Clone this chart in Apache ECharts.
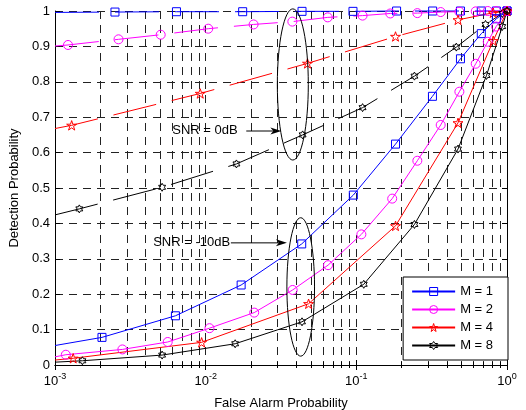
<!DOCTYPE html>
<html>
<head>
<meta charset="utf-8">
<script src="https://cdn.jsdelivr.net/npm/echarts@6/dist/echarts.min.js"></script>
<style>
  html, body { margin: 0; padding: 0; background: #fff; }
  #chart { width: 526px; height: 410px; }
</style>
</head>
<body>
<div id="chart"></div>
<script>
// SNR = -10dB (solid lines)
const m1LowPfa = [0.001, 0.00205, 0.0063, 0.0172, 0.0434, 0.0955, 0.182, 0.32, 0.491, 0.675, 0.85, 1];
const m1LowPd  = [0.055, 0.078, 0.139, 0.226, 0.342, 0.48, 0.624, 0.759, 0.865, 0.936, 0.978, 1];
const m2LowPfa = [0.001, 0.00118, 0.0028, 0.0056, 0.0106, 0.021, 0.0378, 0.0649, 0.108, 0.173, 0.254, 0.363, 0.483, 0.62, 0.745, 0.847, 1];
const m2LowPd  = [0.023, 0.029, 0.044, 0.065, 0.104, 0.148, 0.212, 0.282, 0.369, 0.47, 0.577, 0.678, 0.772, 0.851, 0.913, 0.956, 1];
const m4LowPfa = [0.001, 0.00132, 0.0094, 0.0482, 0.182, 0.473, 0.81, 1];
const m4LowPd  = [0.014, 0.019, 0.064, 0.173, 0.393, 0.684, 0.916, 1];
const m8LowPfa = [0.001, 0.00152, 0.00514, 0.0157, 0.0436, 0.112, 0.243, 0.473, 0.731, 0.93, 1];
const m8LowPd  = [0.008, 0.012, 0.028, 0.06, 0.122, 0.228, 0.397, 0.61, 0.818, 0.956, 1];

// SNR = 0dB (dashed lines)
const m1HighPfa = [0.001, 0.0025, 0.0064, 0.0176, 0.0436, 0.095, 0.185, 0.321, 0.491, 0.675, 0.85, 1];
const m1HighPd  = [0.996, 0.997, 0.998, 0.998, 0.999, 0.999, 1, 1, 1, 1, 1, 1];
const m2HighPfa = [0.001, 0.00122, 0.00264, 0.00503, 0.0104, 0.0208, 0.0376, 0.0646, 0.11, 0.168, 0.254, 0.363, 0.483, 0.62, 0.745, 0.847, 1];
const m2HighPd  = [0.901, 0.904, 0.92, 0.933, 0.95, 0.962, 0.97, 0.982, 0.987, 0.993, 0.994, 0.997, 0.998, 0.999, 1, 1, 1];
const m4HighPfa = [0.001, 0.00129, 0.0092, 0.0474, 0.182, 0.473, 0.81, 1];
const m4HighPd  = [0.668, 0.677, 0.767, 0.852, 0.928, 0.975, 0.995, 1];
const m8HighPfa = [0.001, 0.00145, 0.00514, 0.016, 0.044, 0.11, 0.243, 0.461, 0.72, 0.93, 1];
const m8HighPd  = [0.424, 0.441, 0.502, 0.568, 0.65, 0.727, 0.816, 0.898, 0.962, 0.993, 1];

const legendNames = ['M = 1', 'M = 2', 'M = 4', 'M = 8'];
const yTicks = [0, 0.1, 0.2, 0.3, 0.4, 0.5, 0.6, 0.7, 0.8, 0.9, 1];

const FONT = 'Liberation Sans, Arial, sans-serif';
const starPath = 'path://M50,0L61.2,34.5L97.6,34.5L68.2,55.9L79.4,90.5L50,69.1L20.6,90.5L31.8,55.9L2.4,34.5L38.8,34.5Z';
const hexPath = 'path://M50,0L64.4,25L93.3,25L78.9,50L93.3,75L64.4,75L50,100L35.6,75L6.7,75L21.1,50L6.7,25L35.6,25Z';
const squarePath = 'path://M0,0L10,0L10,10L0,10Z';

const styles = [
  { color: '#0000ff', symbol: squarePath, size: 8 },
  { color: '#ff00ff', symbol: 'circle', size: 9 },
  { color: '#ff0000', symbol: starPath, size: 10 },
  { color: '#000000', symbol: hexPath, size: 8 }
];

function pts(pfa, pd) {
  return pfa.map(function (x, i) {
    if (i === 0) return { value: [x, pd[i]], symbol: 'none' };
    return [x, pd[i]];
  });
}

function makeSeries(name, st, pfa, pd, dashed) {
  return {
    name: name,
    type: 'line',
    data: pts(pfa, pd),
    symbol: st.symbol,
    symbolSize: st.size,
    symbolKeepAspect: true,
    showSymbol: true,
    lineStyle: { color: st.color, width: 1, type: dashed ? [44, 16] : 'solid' },
    itemStyle: { color: 'rgba(255,255,255,0)', borderColor: st.color, borderWidth: 1 },
    emphasis: { disabled: true },
    clip: false,
    animation: false
  };
}

const chart = echarts.init(document.getElementById('chart'));

const gridDash = { color: '#222', width: 1, type: [8, 6] };

const option = {
  animation: false,
  textStyle: { fontFamily: FONT },
  grid: { left: 55, right: 19, top: 11, bottom: 45, containLabel: false, outerBoundsMode: 'none' },
  legend: {
    data: legendNames,
    orient: 'vertical',
    right: 18,
    top: 277,
    backgroundColor: '#fff',
    borderColor: '#000',
    borderWidth: 1,
    borderRadius: 0,
    padding: [8, 15, 8, 8],
    itemGap: 5,
    itemWidth: 43,
    itemHeight: 10,
    itemStyle: { color: 'rgba(255,255,255,0)', borderColor: 'inherit', borderWidth: 1 },
    textStyle: { fontSize: 13, color: '#000', fontFamily: FONT },
    selectedMode: false
  },
  xAxis: [
    {
      type: 'log',
      logBase: 10,
      min: 0.001,
      max: 1,
      position: 'bottom',
      name: 'False Alarm Probability',
      nameLocation: 'middle',
      nameGap: 32,
      nameTextStyle: { fontSize: 13, color: '#000', fontFamily: FONT },
      axisLine: { show: true, lineStyle: { color: '#000', width: 1 } },
      axisTick: { show: true, inside: true, length: 5, lineStyle: { color: '#000' } },
      minorTick: { show: true, splitNumber: 9, length: 3, lineStyle: { color: '#000' } },
      splitLine: { show: true, lineStyle: gridDash },
      minorSplitLine: { show: true, lineStyle: gridDash },
      axisLabel: {
        margin: 7,
        formatter: function (v) {
          return '{b|10}{s|' + Math.round(Math.log10(v)) + '}';
        },
        rich: {
          b: { fontSize: 13, color: '#000', fontFamily: FONT, verticalAlign: 'bottom' },
          s: { fontSize: 9, color: '#000', fontFamily: FONT, verticalAlign: 'bottom', padding: [0, 0, 7, 0] }
        }
      }
    },
    {
      type: 'log',
      logBase: 10,
      min: 0.001,
      max: 1,
      position: 'top',
      axisLine: { show: true, lineStyle: { color: '#000', width: 1 } },
      axisTick: { show: true, inside: true, length: 5, lineStyle: { color: '#000' } },
      minorTick: { show: true, splitNumber: 9, length: 3, lineStyle: { color: '#000' } },
      splitLine: { show: false },
      axisLabel: { show: false }
    }
  ],
  yAxis: [
    {
      type: 'value',
      min: 0,
      max: 1,
      interval: 0.1,
      name: 'Detection Probability',
      nameLocation: 'middle',
      nameGap: 29,
      nameTextStyle: { fontSize: 13, color: '#000', fontFamily: FONT },
      axisLine: { show: true, lineStyle: { color: '#000', width: 1 } },
      axisTick: { show: true, inside: true, length: 5, lineStyle: { color: '#000' } },
      splitLine: { show: true, lineStyle: gridDash },
      axisLabel: {
        margin: 5,
        fontSize: 13,
        color: '#000',
        fontFamily: FONT,
        customValues: yTicks,
        formatter: function (v) {
          if (v === 0) return '0';
          if (Math.abs(v - 1) < 1e-9) return '1';
          return v.toFixed(1);
        }
      }
    },
    {
      type: 'value',
      min: 0,
      max: 1,
      interval: 0.1,
      position: 'right',
      axisLine: { show: true, lineStyle: { color: '#000', width: 1 } },
      axisTick: { show: true, inside: true, length: 5, lineStyle: { color: '#000' } },
      splitLine: { show: false },
      axisLabel: { show: false }
    }
  ],
  series: [
    makeSeries('M = 1 (0dB)', styles[0], m1HighPfa, m1HighPd, true),
    makeSeries('M = 2 (0dB)', styles[1], m2HighPfa, m2HighPd, true),
    makeSeries('M = 4 (0dB)', styles[2], m4HighPfa, m4HighPd, true),
    makeSeries('M = 8 (0dB)', styles[3], m8HighPfa, m8HighPd, true),
    makeSeries('M = 1', styles[0], m1LowPfa, m1LowPd, false),
    makeSeries('M = 2', styles[1], m2LowPfa, m2LowPd, false),
    makeSeries('M = 4', styles[2], m4LowPfa, m4LowPd, false),
    makeSeries('M = 8', styles[3], m8LowPfa, m8LowPd, false)
  ]
};

chart.setOption(option);

// annotations: positions in data coordinates, converted through the axes
function px(x, y) {
  return chart.convertToPixel({ xAxisIndex: 0, yAxisIndex: 0 }, [x, y]);
}

function arrow(p0, tip) {
  return [
    { type: 'line', shape: { x1: p0[0], y1: p0[1], x2: tip[0] - 6, y2: tip[1] }, style: { stroke: '#000', lineWidth: 1 } },
    { type: 'polygon', shape: { points: [[tip[0], tip[1]], [tip[0] - 11, tip[1] - 3.5], [tip[0] - 8, tip[1]], [tip[0] - 11, tip[1] + 3.5]] }, style: { fill: '#000' } }
  ];
}

function ellipse(xl, xr, yt, yb) {
  const a = px(xl, yt);
  const b = px(xr, yb);
  return {
    type: 'ellipse',
    shape: { cx: (a[0] + b[0]) / 2, cy: (a[1] + b[1]) / 2, rx: (b[0] - a[0]) / 2, ry: (b[1] - a[1]) / 2 },
    style: { fill: 'none', stroke: '#000', lineWidth: 1 },
    z: 10
  };
}

function label(text, x, y) {
  const p = px(x, y);
  return {
    type: 'text', x: p[0], y: p[1], z: 10,
    style: { text: text, fontSize: 13, fontFamily: FONT, fill: '#000', verticalAlign: 'middle', align: 'left' }
  };
}

const g = [];
g.push(ellipse(0.0299, 0.048, 1.006, 0.579));
g.push(ellipse(0.0346, 0.0528, 0.416, 0.025));
g.push(label('SNR = 0dB', 0.006, 0.663));
g.push(label('SNR = -10dB', 0.00448, 0.347));
arrow(px(0.0186, 0.661), px(0.0318, 0.661)).forEach(function (e) { e.z = 10; g.push(e); });
arrow(px(0.0147, 0.345), px(0.0346, 0.345)).forEach(function (e) { e.z = 10; g.push(e); });

chart.setOption({ graphic: g });
</script>
</body>
</html>
